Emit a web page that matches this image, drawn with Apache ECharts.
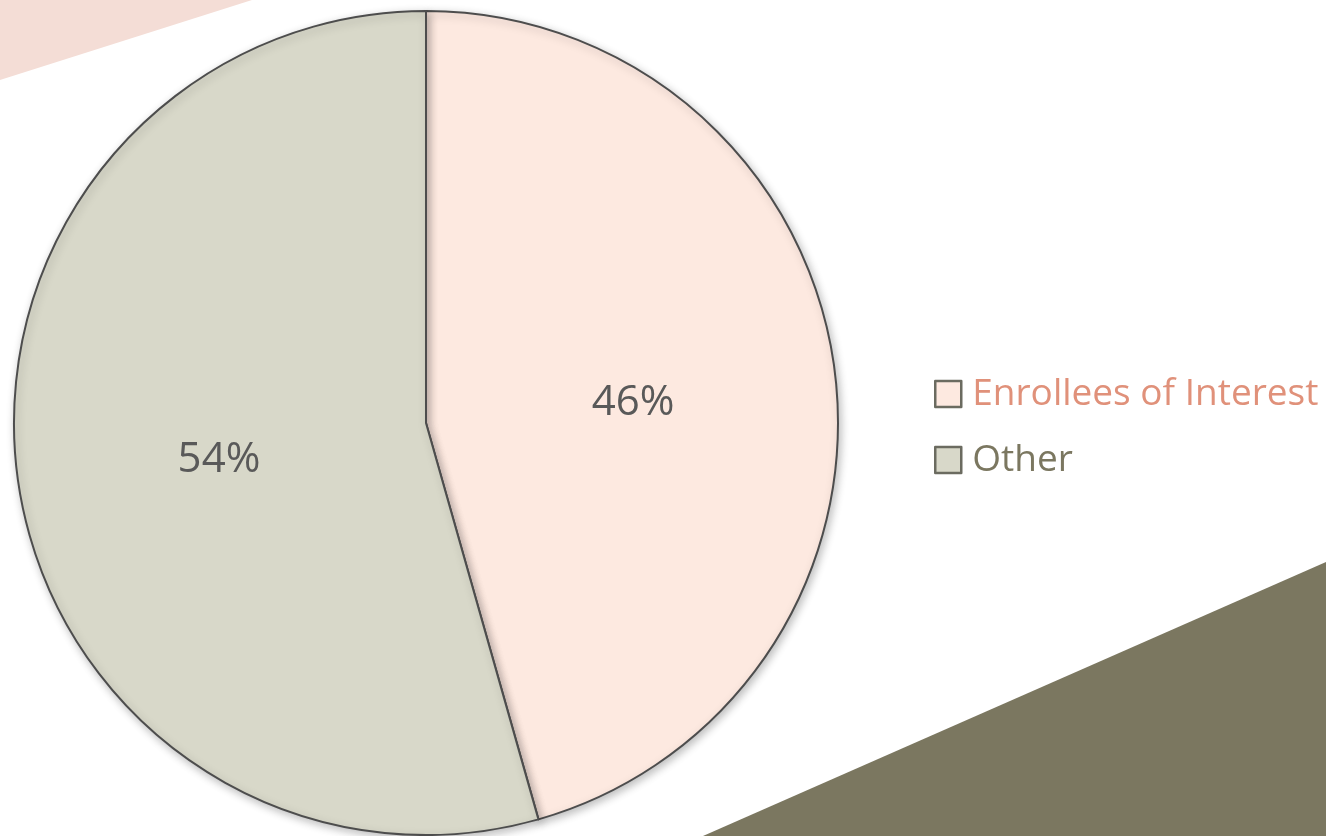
<!DOCTYPE html>
<html>
<head>
<meta charset="utf-8">
<style>
html,body{margin:0;padding:0;background:#fff;}
#chart{width:1326px;height:836px;}
</style>
<script src="https://cdn.jsdelivr.net/npm/echarts@6/dist/echarts.min.js"></script>
</head>
<body>
<div id="chart"></div>
<script>
const categories = ['Enrollees of Interest', 'Other'];
const values = [45.6, 54.4];
const sliceColors = ['#fde9e0', '#d8d8c9'];
const legendColors = ['#e0917a', '#7b7760'];

const chart = echarts.init(document.getElementById('chart'));
chart.setOption({
  backgroundColor: '#ffffff',
  animation: false,
  graphic: [
    { type: 'polygon', z: -10, shape: { points: [[0,0],[252,0],[0,80]] }, style: { fill: '#f4ddd6' } },
    { type: 'polygon', z: -10, shape: { points: [[703,836],[1326,562],[1326,836]] }, style: { fill: '#7b7760' } }
  ],
  legend: {
    orient: 'vertical',
    left: 929,
    top: 367,
    itemWidth: 26,
    itemHeight: 26,
    itemGap: 22,
    icon: 'rect',
    textStyle: { fontFamily: 'Open Sans', fontSize: 37, lineHeight: 44, padding: [0, 0, 0, 6] },
    data: categories.map((c, i) => ({
      name: c,
      itemStyle: { color: sliceColors[i], borderColor: '#6b6b60', borderWidth: 2.5 },
      textStyle: { color: legendColors[i] }
    }))
  },
  series: [{
    type: 'pie',
    center: [426, 423],
    radius: [0, 412],
    startAngle: 90,
    clockwise: true,
    label: {
      show: true,
      position: 'inside',
      formatter: p => '{s|}\n{v|' + Math.round(p.value) + '%}',
      rich: {
        s: { height: 17, lineHeight: 17, fontSize: 1 },
        v: { fontFamily: 'Open Sans', fontSize: 42, lineHeight: 56, color: '#595959' }
      }
    },
    labelLine: { show: false },
    itemStyle: {
      borderColor: '#4d4d4d',
      borderWidth: 2,
      shadowBlur: 8,
      shadowOffsetX: 2,
      shadowOffsetY: 3,
      shadowColor: 'rgba(0,0,0,0.25)'
    },
    emphasis: { disabled: true },
    data: categories.map((c, i) => ({ name: c, value: values[i], itemStyle: { color: sliceColors[i] } }))
  }]
});
</script>
</body>
</html>
